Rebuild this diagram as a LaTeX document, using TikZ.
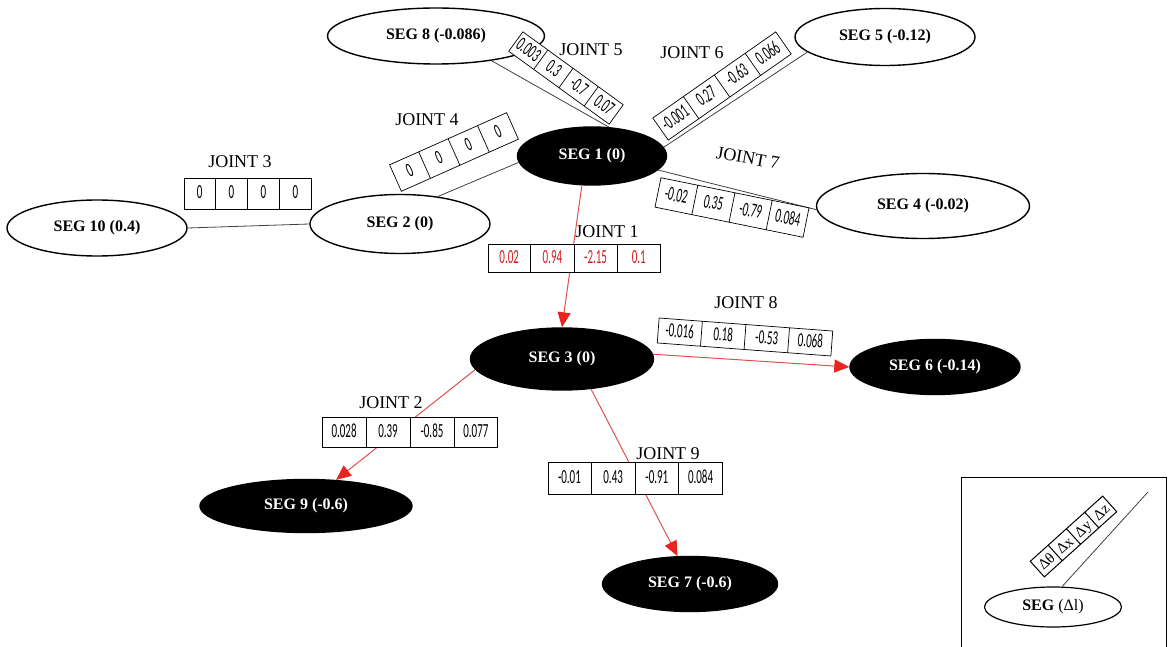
\documentclass[tikz,border=0pt]{standalone}
\usepackage{fontspec}
\setmainfont{Liberation Serif}
\newfontfamily\numfont[FakeStretch=0.55]{Carlito}
\usetikzlibrary{shapes.geometric,shapes.multipart,arrows.meta}
\definecolor{arrred}{RGB}{232,36,30}
\definecolor{linered}{RGB}{224,80,80}
\definecolor{valred}{RGB}{210,30,30}
\newcommand\cellbox[3]{\makebox[#1]{\rule[\dimexpr-#2/2+5.5pt\relax]{0pt}{#2}#3}}
\newcommand\fourcells[6]{\cellbox{#1}{#2}{#3}\nodepart{two}\cellbox{#1}{#2}{#4}\nodepart{three}\cellbox{#1}{#2}{#5}\nodepart{four}\cellbox{#1}{#2}{#6}}
\begin{document}
\begin{tikzpicture}[x=1pt,y=-1pt,
  seg/.style={ellipse, draw=black, line width=1.4pt, inner sep=0pt, font=\fontsize{16}{18}\selectfont\bfseries},
  wseg/.style={seg, fill=white},
  bseg/.style={seg, fill=black, text=white},
  jbox/.style={rectangle split, rectangle split horizontal, rectangle split parts=4, draw=black, line width=0.7pt, fill=white, inner sep=0pt, font=\fontsize{20}{22}\numfont},
  jlabel/.style={font=\fontsize{18}{20}\selectfont, inner sep=0pt},
  link/.style={draw=black!75, line width=0.8pt},
  rlink/.style={draw=linered, line width=1pt, -{Triangle[length=15pt,width=13pt,color=arrred]}},
]
\useasboundingbox (0,0) rectangle (1168,647);

% segments
\node[wseg, minimum width=217pt, minimum height=56pt] (seg8) at (436,36) {SEG 8 (-0.086)};
\node[wseg, minimum width=180pt, minimum height=57pt] (seg5) at (885,37) {SEG 5 (-0.12)};
\node[bseg, minimum width=149pt, minimum height=58pt] (seg1) at (592,156) {SEG 1 (0)};
\node[wseg, minimum width=213pt, minimum height=65pt] (seg4) at (923,206) {SEG 4 (-0.02)};
\node[wseg, minimum width=180pt, minimum height=56pt] (seg10) at (97,228) {SEG 10 (0.4)};
\node[wseg, minimum width=180pt, minimum height=59pt] (seg2) at (400,224) {SEG 2 (0)};
\node[bseg, minimum width=183pt, minimum height=62pt] (seg3) at (562,359) {SEG 3 (0)};
\node[bseg, minimum width=170pt, minimum height=55pt] (seg6) at (935,367) {SEG 6 (-0.14)};
\node[bseg, minimum width=212pt, minimum height=53pt] (seg9) at (306,506) {SEG 9 (-0.6)};
\node[bseg, minimum width=175pt, minimum height=55pt] (seg7) at (690,584) {SEG 7 (-0.6)};

% connectors
\draw[link] (seg8.-24) -- (seg1.60);
\draw[link] (seg1.7) -- (seg5.191);
\draw[link] (seg2.36) -- (seg1.185);
\draw[link] (seg1.-12) -- (seg4.182);
\draw[link] (seg10.east) -- (seg2.west);
\draw[rlink] (seg1.251) -- (seg3.north);
\draw[rlink] (seg3.187) -- (seg9.41);
\draw[rlink] (seg3.3) -- (seg6.west);
\draw[rlink] (seg3.-46) -- (seg7.114);

% joint boxes
\node[jbox, text=valred] (j1) at (574,258) {\fourcells{42.5pt}{28pt}{0.02}{0.94}{-2.15}{0.1}};
\node[jbox] (j2) at (410,432) {\fourcells{43.25pt}{30pt}{0.028}{0.39}{-0.85}{0.077}};
\node[jbox] (j3) at (247.5,193.5) {\fourcells{31.25pt}{31pt}{0}{0}{0}{0}};
\node[jbox, rotate=24] (j4) at (454,152) {\fourcells{31.5pt}{29pt}{0}{0}{0}{0}};
\node[jbox, rotate=-36] (j5) at (566,78) {\fourcells{30.5pt}{24pt}{0.003}{0.3}{-0.7}{0.07}};
\node[jbox, rotate=35] (j6) at (722,86) {\fourcells{37pt}{27pt}{-0.001}{0.27}{-0.63}{0.066}};
\node[jbox, rotate=-11.5] (j7) at (732,207.5) {\fourcells{37.25pt}{30pt}{-0.02}{0.35}{-0.79}{0.084}};
\node[jbox, rotate=-4.3] (j8) at (745,337) {\fourcells{43pt}{25pt}{-0.016}{0.18}{-0.53}{0.068}};
\node[jbox] (j9) at (635,478) {\fourcells{43pt}{32pt}{-0.01}{0.43}{-0.91}{0.084}};

% joint labels
\node[jlabel] (l1) at (607,232) {JOINT 1};
\node[jlabel] (l2) at (391,403) {JOINT 2};
\node[jlabel] (l3) at (240,162) {JOINT 3};
\node[jlabel] (l4) at (427,120) {JOINT 4};
\node[jlabel] (l5) at (591,50) {JOINT 5};
\node[jlabel] (l6) at (692,53) {JOINT 6};
\node[jlabel, rotate=-10] (l7) at (748,158) {JOINT 7};
\node[jlabel] (l8) at (746,303) {JOINT 8};
\node[jlabel] (l9) at (668,454) {JOINT 9};

% legend
\draw[line width=1pt] (961,647) -- (961,477) -- (1166,477) -- (1166,647);
\node[seg, fill=white, line width=1.2pt, minimum width=137pt, minimum height=40pt] (lseg) at (1053,607) {SEG \mdseries(Δl)};
\coordinate (lend) at (1148,492);
\draw[link] (lseg.66) -- (lend);
\node[jbox, rotate=42, line width=1pt, font=\fontsize{15}{17}\selectfont] (lbox) at (1073.5,536.5) {\fourcells{23.6pt}{21pt}{Δθ}{Δx}{Δy}{Δz}};
\end{tikzpicture}
\end{document}
